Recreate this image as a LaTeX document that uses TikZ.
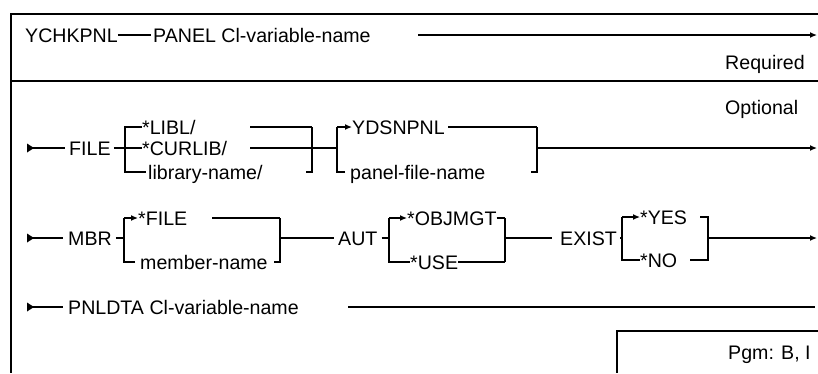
\documentclass[tikz,border=0pt]{standalone}
\usepackage{fontspec}
\setmainfont{Liberation Sans}
\usetikzlibrary{arrows.meta}
\begin{document}
\begin{tikzpicture}[x=1pt,y=-1pt,
  txt/.style={anchor=west,inner sep=0pt,text height=14pt,text depth=0pt,font=\fontsize{19.6}{22}\selectfont},
  ln/.style={line width=1.3pt},
  brk/.style={line width=2.6pt},
  frm/.style={line width=2pt},
  arr/.style={-{Latex[length=7pt,width=6pt]}}]
\useasboundingbox (0,0) rectangle (818,373);
% frame
\draw[frm] (818,14) -- (11,14) -- (11,373);
\draw[frm] (11,81) -- (818,81);
\draw[frm] (818,331) -| (617,373);
% required
\node[txt] (ychk) at (25,35) {YCHKPNL};
\node[txt] (panel) at (153,35) {PANEL Cl-variable-name};
\node[txt] (req) at (725,62) {Required};
\coordinate (r0a) at (418,35); \coordinate (r0b) at (817,35);
\draw[ln,shorten >=2pt] (ychk.east) -- (panel.west);
\draw[ln,arr] (r0a) -- (r0b);
% optional
\node[txt] (opt) at (725,107) {Optional};
\node[txt] (file) at (69,148) {FILE};
\node[txt] (libl) at (142,127) {*LIBL/};
\node[txt] (curlib) at (142,148) {*CURLIB/};
\node[txt] (libnm) at (148,172) {library-name/};
\node[txt] (ydsn) at (352,127) {YDSNPNL};
\node[txt] (pnlf) at (350,172) {panel-file-name};
\coordinate (s1) at (27,148); \coordinate (e1) at (817,148);
\fill (s1) ++(0,-4.5) -- ++(7,4.5) -- ++(-7,4.5) -- cycle;
\draw[ln,shorten >=4pt] (s1) -- (file.west);
\draw[ln,shorten <=3pt] (file.east) -- (curlib.west);
\draw[brk] (libl.west) -| (125,172) -- ([xshift=-2pt]libnm.west);
\draw[ln] (250,127) -- (312,127);
\draw[ln] (250,148) -- (337,148);
\draw[brk] (312,127) -- (312,172) -- (306,172);
\draw[brk] ([xshift=-5pt]pnlf.west) -| (337,127);
\draw[ln,arr] (337,127) -- (ydsn.west);
\draw[ln] (448,127) -- (537,127);
\draw[brk] (537,127) -- (537,172) -- (531,172);
\draw[ln,arr] (537,148) -- (e1);
% member
\node[txt] (mbr) at (68,238) {MBR};
\node[txt] (sfile) at (138,218) {*FILE};
\node[txt] (mbrnm) at (140,262) {member-name};
\node[txt] (aut) at (338,238) {AUT};
\node[txt] (objm) at (407,218) {*OBJMGT};
\node[txt] (use) at (410,262) {*USE};
\node[txt] (exist) at (560,238) {EXIST};
\node[txt] (yes) at (640,217) {*YES};
\node[txt] (no) at (640,260) {*NO};
\coordinate (s2) at (27,238); \coordinate (e2) at (817,238);
\fill (s2) ++(0,-4.5) -- ++(7,4.5) -- ++(-7,4.5) -- cycle;
\draw[ln,shorten >=5pt] (s2) -- (mbr.west);
\draw[ln,shorten <=4pt] (mbr.east) -- (124,238);
\draw[brk] ([xshift=-5pt]mbrnm.west) -| (124,218);
\draw[ln,arr] (124,218) -- (sfile.west);
\draw[ln] (212,218) -- (280,218);
\draw[brk] (280,218) -- (280,262) -- (274,262);
\draw[ln,shorten >=4pt] (280,238) -- (aut.west);
\draw[ln,shorten <=4pt] (aut.east) -- (389,238);
\draw[brk] (use.west) -| (389,218);
\draw[ln,arr] (389,218) -- (objm.west);
\draw[ln] (objm.east) -- (505,218);
\draw[ln] (458,262) -- (505,262);
\draw[brk] (505,218) -- (505,262);
\draw[ln,shorten >=8pt] (505,238) -- (exist.west);
\draw[ln,shorten <=3pt] (exist.east) -- (622,238);
\draw[brk] (no.west) -| (622,217);
\draw[ln,arr] (622,217) -- (yes.west);
\draw[brk] (700,217) -- (708,217) -- (708,260) -- (690,260);
\draw[ln,arr] (708,238) -- (e2);
% panel data
\node[txt] (pnldta) at (68,307) {PNLDTA Cl-variable-name};
\coordinate (s3) at (27,307);
\coordinate (r3a) at (348,307); \coordinate (r3b) at (815,307);
\fill (s3) ++(0,-4.5) -- ++(7,4.5) -- ++(-7,4.5) -- cycle;
\draw[ln,shorten >=5pt] (s3) -- (pnldta.west);
\draw[ln] (r3a) -- (r3b);
% program box
\node[txt] (pgm) at (728,352) {Pgm: B, I};
\end{tikzpicture}
\end{document}
